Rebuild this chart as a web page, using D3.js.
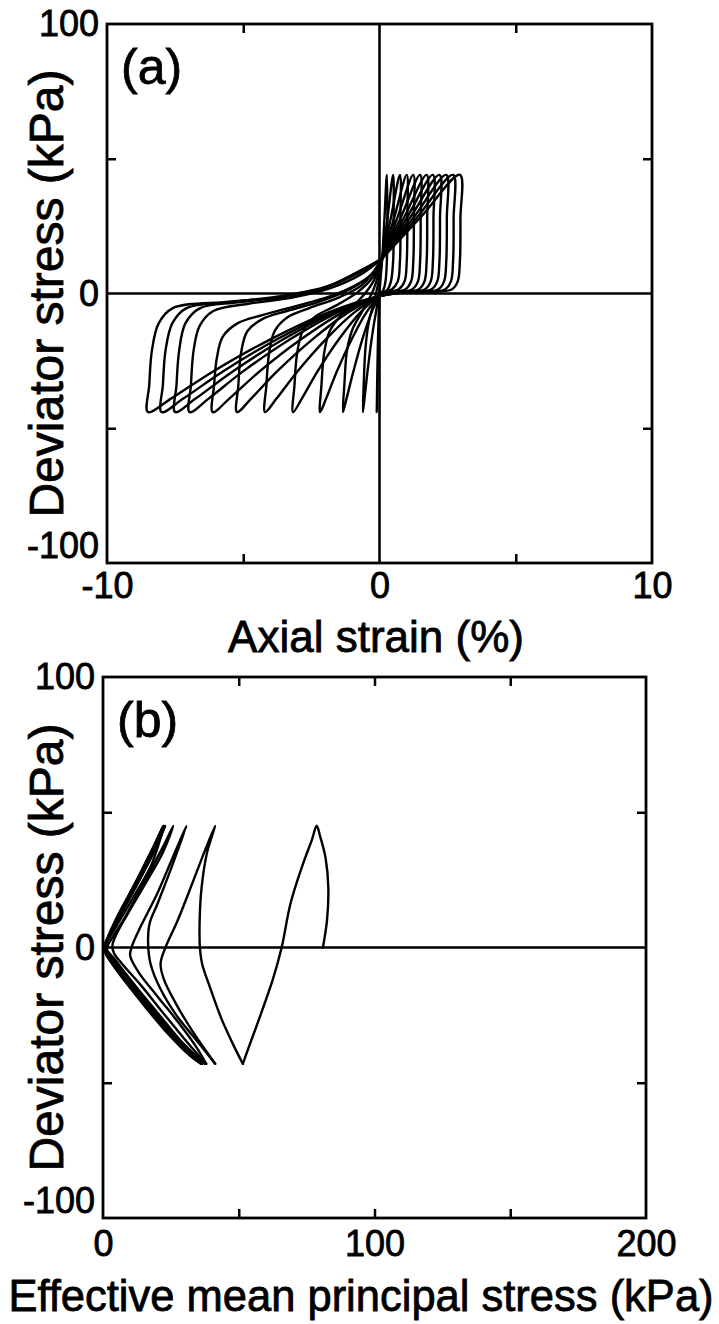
<!DOCTYPE html>
<html><head><meta charset="utf-8">
<script src="https://cdn.jsdelivr.net/npm/d3@7"></script>
<style>
body{margin:0;background:#fff}
svg{display:block}
text{font-family:"Liberation Sans",Arial,Helvetica,sans-serif;fill:#000}
</style>
</head><body>
<svg id="chart" width="719" height="1324"></svg>
<script>
// ---------- Panel (a): axial strain (%) vs deviator stress (kPa), one array per cycle ----------
const aCycle1 = [[0,0],[0.05,7],[0.1,13],[0.185,28.5],[0.27,44],[0.29,28],[0.27,12],[0.22,4.5],[0.15,1.5],[0.08,0.3],[0,-1],[-0.02,-7],[-0.05,-17],[-0.07,-29],[-0.09,-39],[-0.1,-44],[-0.08,-30],[-0.05,-15],[0,0],[0.05,7],[0.1,13]];
const aCycle2 = [[0.1,13],[0.3,28.5],[0.5,44],[0.52,28],[0.5,12],[0.42,4.5],[0.3,1.5],[0.15,0.3],[0,-1],[-0.13,-7],[-0.29,-17],[-0.44,-29],[-0.55,-39],[-0.61,-44],[-0.58,-34],[-0.52,-21],[-0.4,-11],[-0.2,-3],[0,6],[0.1,13]];
const aCycle3 = [[0.1,13],[0.425,28.5],[0.75,44],[0.77,28],[0.75,12],[0.67,4.5],[0.45,1.5],[0.15,0.3],[0,-1],[-0.29,-7],[-0.63,-17],[-0.96,-29],[-1.21,-39],[-1.34,-44],[-1.29,-34],[-1.19,-21],[-0.98,-13],[-0.6,-6],[-0.2,2],[0.1,13]];
const aCycle4 = [[0.1,13],[0.55,28.5],[1.0,44],[1.02,28],[1.0,12],[0.92,4.5],[0.7,1.5],[0.3,0.5],[0,-1],[-0.48,-7],[-1.02,-17],[-1.57,-29],[-1.96,-39],[-2.18,-44],[-2.13,-34],[-2.03,-22],[-1.83,-14],[-1.4,-8],[-0.8,-3],[-0.25,4],[0.1,13]];
const aCycle5 = [[0.1,13],[0.67,28.5],[1.24,44],[1.26,28],[1.24,12],[1.16,4.5],[0.94,1.5],[0.4,0.5],[0,-1],[-0.7,-7],[-1.49,-17],[-2.28,-29],[-2.85,-39],[-3.17,-44],[-3.12,-34],[-3.02,-22],[-2.82,-14],[-2.35,-8.5],[-1.6,-4.5],[-0.8,0.5],[-0.25,6],[0.1,13]];
const aCycle6 = [[0.1,13],[0.795,28.5],[1.49,44],[1.51,28],[1.49,12],[1.41,4.5],[1.19,1.5],[0.5,0.5],[0,-1],[-0.92,-7],[-1.97,-17],[-3.02,-29],[-3.78,-39],[-4.2,-44],[-4.15,-34],[-4.05,-22],[-3.85,-14],[-3.4,-9],[-2.6,-5.5],[-1.5,-1.5],[-0.6,3.5],[0.1,13]];
const aCycle7 = [[0.1,13],[0.915,28.5],[1.73,44],[1.75,28],[1.73,12],[1.65,4.5],[1.43,1.5],[0.6,0.5],[0,-1],[-1.15,-7],[-2.46,-17],[-3.77,-29],[-4.71,-39],[-5.23,-44],[-5.18,-34],[-5.08,-22],[-4.85,-14],[-4.3,-9.5],[-3.4,-6.5],[-2.2,-3],[-1.1,1.5],[-0.3,7],[0.1,13]];
const aCycle8 = [[0.1,13],[1.03,28.5],[1.96,44],[1.98,28],[1.96,12],[1.88,4.5],[1.66,1.5],[0.7,0.5],[0,-1],[-1.35,-7],[-2.88,-17],[-4.41,-29],[-5.51,-39],[-6.12,-44],[-6.07,-34],[-5.97,-24],[-5.75,-16],[-5.2,-11],[-4.3,-8],[-3,-4.5],[-1.8,-1],[-0.8,3.5],[-0.2,8],[0.1,13]];
const aCycle9 = [[0.1,13],[1.15,28.5],[2.2,44],[2.22,28],[2.2,12],[2.12,4.5],[1.9,1.5],[0.8,0.5],[0,-1],[-1.53,-7],[-3.28,-17],[-5.02,-29],[-6.27,-39],[-6.97,-44],[-6.92,-34],[-6.82,-21],[-6.6,-12],[-6.1,-6.5],[-4.8,-3.8],[-3.2,-1.5],[-1.8,2],[-0.7,7],[0.1,13]];
const aCycle10 = [[0.1,13],[1.275,28.5],[2.45,44],[2.47,28],[2.45,12],[2.37,4.5],[2.15,1.5],[0.9,0.5],[0,-1],[-1.65,-7],[-3.53,-17],[-5.4,-29],[-6.75,-39],[-7.5,-44],[-7.45,-34],[-7.35,-21],[-7.12,-11],[-6.6,-5.5],[-5.2,-3.3],[-3.4,-1],[-1.9,2.5],[-0.7,8],[0.1,13]];
const aCycle11 = [[0.1,13],[1.4,28.5],[2.7,44],[2.72,28],[2.7,12],[2.62,4.5],[2.4,1.5],[1.0,0.5],[0,-1],[-1.76,-7],[-3.76,-17],[-5.76,-29],[-7.2,-39],[-8.0,-44],[-7.95,-34],[-7.85,-21],[-7.6,-11],[-7.1,-5.5],[-5.6,-3.3],[-3.5,-0.8],[-1.9,2.7],[-0.7,8.5],[0.1,13]];
const aCycle12 = [[0.1,13],[1.525,28.5],[2.95,44],[2.97,28],[2.95,12],[2.87,4.5],[2.65,1.5],[1.1,0.5],[0,-1],[-1.87,-7],[-4.0,-17],[-6.12,-29],[-7.65,-39],[-8.5,-44],[-8.45,-34],[-8.35,-21],[-8.1,-11],[-7.6,-5.5],[-5.5,-3],[-3,-0.7],[-1.8,3],[-0.6,9],[0.1,13]];
const aCycles = [aCycle1,aCycle2,aCycle3,aCycle4,aCycle5,aCycle6,aCycle7,aCycle8,aCycle9,aCycle10,aCycle11,aCycle12];

// ---------- Panel (b): effective mean principal stress (kPa) vs deviator stress (kPa) ----------
const bCycle1 = [[81,0],[82.5,10],[83,22],[82,33],[80,41],[78.7,45],[77,40],[73,29],[69,16],[65.8,0],[62.5,-12],[58,-25],[54,-36],[51.5,-43]];
const bCycle2 = [[51.5,-43],[48,-36],[43.5,-26],[39.5,-15],[36.5,-6],[35.7,0],[35.6,10],[36.3,22],[38.3,35],[41.3,45],[38,37],[33,24],[27.5,10],[23,0],[21.2,-6],[22.5,-12],[27,-21],[33,-31],[38.5,-39],[41.3,-43]];
const bCycle3 = [[41.3,-43],[35,-35],[27,-25],[21,-15],[17.5,-6],[16.6,2],[17.2,9],[20,16],[25,29],[30.8,45],[26,34],[20,20],[14,8],[10.5,0],[10,-3],[13,-9],[20,-18],[28,-28],[34.5,-37],[38,-43]];
const bCycle4 = [[38,-43],[31,-35],[22,-24],[14,-14],[7,-6],[4,-2],[3.5,1],[5,5],[10,14],[17,26],[22,35],[25.9,45],[22,37],[15,24],[8,11],[3,3],[1.5,0],[2,-3],[8,-11],[17,-22],[26,-32],[33,-39],[36.5,-43]];
const bCycle5 = [[36.5,-43],[29,-35],[20,-24],[11,-13],[4,-4],[1.2,-0.5],[1.5,2],[5,8],[12,20],[18,31],[22.3,45],[18,36],[11,22],[5,10],[1.5,3],[0.5,0],[1.5,-3],[8,-12],[18,-24],[27,-34],[33,-40],[37.6,-43]];
const bCycle6 = [[37.6,-43],[30,-36],[20,-25],[10,-12],[3,-3],[0.6,0],[2,4],[7,13],[14,26],[19,36],[23,45],[19,37],[12,24],[5,11],[1,2],[0.3,0],[3,-5],[12,-17],[22,-29],[30,-38],[36.3,-43]];
const bCycle7 = [[36.3,-43],[28,-35],[18,-23],[9,-11],[2.5,-3],[0.5,0],[2.5,5],[8,15],[15,28],[20,38],[22.5,45],[18,36],[11,22],[4,8],[0.8,1],[0.5,-1],[4,-7],[14,-20],[24,-32],[32,-40],[36,-43]];
const bCycles = [bCycle1,bCycle2,bCycle3,bCycle4,bCycle5,bCycle6,bCycle7];

// ---------- axes ----------
const aXTickLabels = [-10, 0, 10];
const aXTickMarks = [-5, 5];
const bXTickLabels = [0, 100, 200];
const bXTickMarks = [50, 100, 150];
const yTickLabels = [-100, 0, 100];
const yTickMarks = [-50, 50];

const svg = d3.select('#chart');

function drawPanel(o) {
  const g = svg.append('g');
  const x = d3.scaleLinear().domain(o.xDomain).range([o.left, o.right]);
  const y = d3.scaleLinear().domain([-100, 100]).range([o.bottom, o.top]);

  const tick = 9;
  g.append('g').attr('transform', `translate(0,${o.bottom})`)
    .call(d3.axisBottom(x).tickValues(o.xMarks).tickSize(-tick).tickFormat(''));
  g.append('g').attr('transform', `translate(0,${o.top})`)
    .call(d3.axisTop(x).tickValues(o.xMarks).tickSize(-tick).tickFormat(''));
  g.append('g').attr('transform', `translate(${o.left},0)`)
    .call(d3.axisLeft(y).tickValues(yTickMarks).tickSize(-tick).tickFormat(''));
  g.append('g').attr('transform', `translate(${o.right},0)`)
    .call(d3.axisRight(y).tickValues(yTickMarks).tickSize(-tick).tickFormat(''));
  g.selectAll('.domain').remove();
  g.selectAll('.tick line').attr('stroke', '#000').attr('stroke-width', 2.5);

  const xl = g.append('g').attr('transform', `translate(0,${o.bottom})`)
    .call(d3.axisBottom(x).tickValues(o.xLabels).tickSize(0).tickPadding(o.xPad).tickFormat(d => String(d)));
  const yl = g.append('g').attr('transform', `translate(${o.left},0)`)
    .call(d3.axisLeft(y).tickValues(yTickLabels).tickSize(0).tickPadding(8).tickFormat(d => String(d)));
  xl.select('.domain').remove();
  yl.select('.domain').remove();
  [xl, yl].forEach(s => s.selectAll('text')
    .attr('font-size', 36).attr('font-family', '"Liberation Sans",Arial,sans-serif')
    .attr('fill', '#000').attr('stroke', '#000').attr('stroke-width', 0.8));
  yl.selectAll('.tick').filter(d => d === -100).select('text').attr('dy', '-0.15em');

  g.append('line').attr('x1', o.left).attr('x2', o.right).attr('y1', y(0)).attr('y2', y(0))
    .attr('stroke', '#000').attr('stroke-width', 2.6);
  if (o.vZero) {
    g.append('line').attr('x1', x(0)).attr('x2', x(0)).attr('y1', o.top).attr('y2', o.bottom)
      .attr('stroke', '#000').attr('stroke-width', 2.6);
  }

  const line = d3.line().x(d => x(d[0])).y(d => y(d[1])).curve(d3.curveCatmullRom.alpha(0.5));
  g.append('g').selectAll('path').data(o.cycles).join('path')
    .attr('d', line).attr('fill', 'none').attr('stroke', '#000')
    .attr('stroke-width', 2.4).attr('stroke-linejoin', 'round').attr('stroke-linecap', 'round');

  g.append('rect').attr('x', o.left).attr('y', o.top)
    .attr('width', o.right - o.left).attr('height', o.bottom - o.top)
    .attr('fill', 'none').attr('stroke', '#000').attr('stroke-width', 2.8);

  g.append('text').attr('x', o.left + 14).attr('y', o.top + 60)
    .attr('font-size', 50).attr('stroke', '#000').attr('stroke-width', 0.8).text(o.tag);

  g.append('text').attr('x', o.xTitleX).attr('y', o.xTitleY)
    .attr('text-anchor', 'middle').attr('font-size', o.xTitleSize)
    .attr('stroke', '#000').attr('stroke-width', 0.8).text(o.xTitle);
  g.append('text').attr('transform', `translate(63,${(o.top + o.bottom) / 2}) rotate(-90)`)
    .attr('text-anchor', 'middle').attr('font-size', 48)
    .attr('stroke', '#000').attr('stroke-width', 0.8).text('Deviator stress (kPa)');
}

drawPanel({left: 107, right: 652, top: 24, bottom: 563, xDomain: [-10, 10],
  xMarks: aXTickMarks, xLabels: aXTickLabels, xPad: 9, vZero: true, cycles: aCycles,
  tag: '(a)', xTitle: 'Axial strain (%)', xTitleX: 376, xTitleY: 652, xTitleSize: 44});

drawPanel({left: 103, right: 646, top: 677, bottom: 1218, xDomain: [0, 200],
  xMarks: bXTickMarks, xLabels: bXTickLabels, xPad: 12, vZero: false, cycles: bCycles,
  tag: '(b)', xTitle: 'Effective mean principal stress (kPa)', xTitleX: 361, xTitleY: 1311, xTitleSize: 43.5});
</script>
</body></html>
